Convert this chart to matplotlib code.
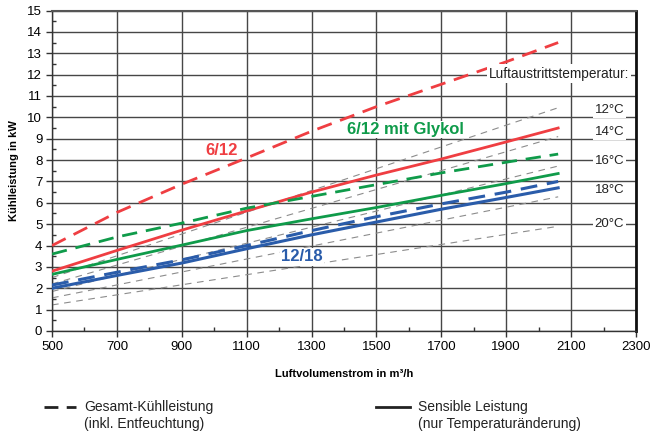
# Kühlleistungsdiagramm: Kühlleistung über Luftvolumenstrom

import matplotlib
matplotlib.use("Agg")
import matplotlib.pyplot as plt
from matplotlib.lines import Line2D
from matplotlib.ticker import MultipleLocator

plt.rcParams["font.family"] = ["Liberation Sans", "DejaVu Sans"]

# Luftvolumenstrom in m³/h
luftvolumen = [500, 700, 900, 1100, 1300, 1500, 1700, 1900, 2060]

# 6/12
rot_gesamt = [4.0, 5.55, 6.87, 8.1, 9.35, 10.5, 11.55, 12.6, 13.5]
rot_sensibel = [2.8, 3.77, 4.72, 5.62, 6.5, 7.3, 8.05, 8.85, 9.5]

# 6/12 mit Glykol
gruen_gesamt = [3.6, 4.4, 5.05, 5.75, 6.3, 6.85, 7.4, 7.9, 8.28]
gruen_sensibel = [2.65, 3.35, 4.02, 4.7, 5.25, 5.78, 6.35, 6.9, 7.37]

# 12/18
blau_gesamt = [2.15, 2.75, 3.33, 4.0, 4.7, 5.35, 5.95, 6.5, 7.0]
blau_sensibel = [2.0, 2.6, 3.18, 3.85, 4.5, 5.1, 5.7, 6.25, 6.7]

# Luftaustrittstemperatur-Linien (Anfang bei 500, Ende bei 2060 m³/h)
temp_x = [500, 2060]
temp_namen = ["12°C", "14°C", "16°C", "18°C", "20°C"]
temp_start = [2.5, 2.2, 1.85, 1.55, 1.22]
temp_ende = [10.45, 9.1, 7.72, 6.28, 4.9]
temp_label_y = [10.33, 9.31, 7.96, 6.59, 5.0]

x_ticks = [500, 700, 900, 1100, 1300, 1500, 1700, 1900, 2100, 2300]

ROT = "#ef3e42"
GRUEN = "#0f9b4a"
BLAU = "#2a5caa"

fig = plt.figure(figsize=(6.52, 4.38), dpi=100)
ax = fig.add_axes([0.0798, 0.2443, 0.8957, 0.7317])

# -----------------------------
# Temperaturlinien
# -----------------------------
for y0, y1 in zip(temp_start, temp_ende):
    ax.plot(temp_x, [y0, y1], color="#8c8c8c", lw=0.8,
            dashes=(6, 5), zorder=2)

# -----------------------------
# Kurven
# -----------------------------
strich = (5.5, 3.2)

ax.plot(luftvolumen, rot_gesamt, color=ROT, lw=2, dashes=strich, zorder=4)
ax.plot(luftvolumen, rot_sensibel, color=ROT, lw=2, zorder=4)
ax.plot(luftvolumen, gruen_gesamt, color=GRUEN, lw=2, dashes=strich, zorder=4)
ax.plot(luftvolumen, gruen_sensibel, color=GRUEN, lw=2, zorder=4)
ax.plot(luftvolumen, blau_gesamt, color=BLAU, lw=2.2, dashes=strich, zorder=4)
ax.plot(luftvolumen, blau_sensibel, color=BLAU, lw=2.2, zorder=4)

# -----------------------------
# Beschriftungen
# -----------------------------
weiss = dict(facecolor="white", edgecolor="none", pad=1.0)

ax.text(1024, 8.47, "6/12", color=ROT, fontsize=12, fontweight="bold",
        ha="center", va="center", zorder=5)
ax.text(1588, 9.43, "6/12 mit Glykol", color=GRUEN, fontsize=12,
        fontweight="bold", ha="center", va="center", bbox=weiss, zorder=5)
ax.text(1270, 3.47, "12/18", color=BLAU, fontsize=12, fontweight="bold",
        ha="center", va="center", bbox=weiss, zorder=5)

ax.text(2062, 12.05, "Luftaustrittstemperatur:", fontsize=9.8,
        ha="center", va="center", color="#222222",
        bbox=dict(facecolor="white", edgecolor="none", pad=1.5), zorder=5)
for name, yl in zip(temp_namen, temp_label_y):
    ax.text(2218, yl, name, fontsize=9.5, ha="center", va="center",
            color="#222222", bbox=weiss, zorder=5)

# -----------------------------
# Achsen
# -----------------------------
ax.set_xlim(500, 2300)
ax.set_ylim(0, 15)
ax.set_xticks(x_ticks)
ax.xaxis.set_minor_locator(MultipleLocator(100))
ax.yaxis.set_major_locator(MultipleLocator(1))
ax.yaxis.set_minor_locator(MultipleLocator(0.5))

ax.grid(which="major", color="#474747", lw=1.0, zorder=1)
ax.set_axisbelow(True)

ax.tick_params(which="major", direction="out", length=4, width=1,
               labelsize=9.5, color="#333333", pad=3)
ax.tick_params(which="minor", direction="in", length=3, width=1,
               color="#333333")

for s in ["left", "bottom"]:
    ax.spines[s].set_color("#333333")
    ax.spines[s].set_linewidth(1.0)
ax.spines["top"].set_color("#555555")
ax.spines["top"].set_linewidth(1.5)
ax.spines["right"].set_color("#111111")
ax.spines["right"].set_linewidth(2.0)

ax.set_xlabel("Luftvolumenstrom in m³/h", fontsize=8, fontweight="bold",
              labelpad=12)
ax.set_ylabel("Kühlleistung in kW", fontsize=8, fontweight="bold",
              labelpad=6)

# -----------------------------
# Legende unten
# -----------------------------
fig.add_artist(Line2D([44 / 652, 76 / 652], [1 - 407 / 438, 1 - 407 / 438],
                      color="#222222", lw=2, dashes=(5, 3)))
fig.text(84 / 652, 1 - 407 / 438, "Gesamt-Kühlleistung", fontsize=10,
         va="center", color="#222222")
fig.text(84 / 652, 1 - 424 / 438, "(inkl. Entfeuchtung)", fontsize=10,
         va="center", color="#222222")

fig.add_artist(Line2D([376 / 652, 410 / 652], [1 - 407 / 438, 1 - 407 / 438],
                      color="#222222", lw=2))
fig.text(418 / 652, 1 - 407 / 438, "Sensible Leistung", fontsize=10,
         va="center", color="#222222")
fig.text(418 / 652, 1 - 424 / 438, "(nur Temperaturänderung)", fontsize=10,
         va="center", color="#222222")

fig.savefig("out.png", dpi=100)
